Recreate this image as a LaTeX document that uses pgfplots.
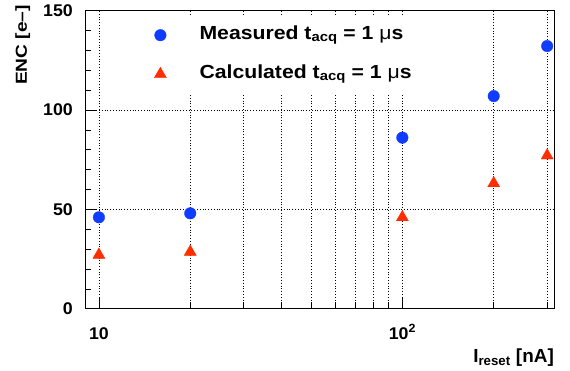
\documentclass[border=0pt]{standalone}
\usepackage{pgfplots}
\pgfplotsset{compat=1.18}
\usepackage{fontspec}
\setmainfont{Liberation Sans}
\newfontfamily\tickfont{Liberation Sans}[FakeStretch=1.05]
\newfontfamily\legfont{Liberation Sans}[FakeStretch=1.12]
\newfontfamily\ylabfont{Liberation Sans}[FakeStretch=1.2]
\definecolor{mblue}{RGB}{15,60,255}
\definecolor{mred}{RGB}{255,45,0}
\pgfplotsset{mylegimg/.style={legend image code/.code={\draw[##1] plot coordinates {(0bp,0bp)}; \path (-30bp,0bp) (39bp,0bp);}}}
\begin{document}
\begin{tikzpicture}
\useasboundingbox (-85bp,-62.3bp) rectangle (485bp,308.7bp);
\begin{axis}[
  scale only axis, width=469bp, height=298bp,
  xmode=log, xmin=9, xmax=316, ymin=0, ymax=150,
  xtick={10,100}, xticklabels={10,10\textsuperscript{2}},
  minor xtick={20,30,40,50,60,70,80,90,200,300},
  ytick={0,50,100,150}, yticklabels={0,50,100,150},
  minor ytick={10,20,30,40,60,70,80,90,110,120,130,140},
  xtick pos=bottom, ytick pos=left,
  tick align=inside,
  major tick length=12bp, minor tick length=6.5bp,
  tick style={black, line width=0.6pt},
  axis line style={line width=0.8pt},
  xmajorgrids, xminorgrids, ymajorgrids,
  grid style={black, dash pattern=on 0.8bp off 2bp, line width=0.5pt},
  minor grid style={black, dash pattern=on 0.8bp off 2bp, line width=0.5pt},
  xticklabel style={font=\tickfont\bfseries\fontsize{17}{17}\selectfont, anchor=base, inner sep=0pt, yshift=-30.3bp},
  yticklabel style={font=\tickfont\bfseries\fontsize{17}{17}\selectfont, anchor=east, inner sep=0pt, xshift=-12bp},
  xlabel={I\textsubscript{reset} [nA]},
  xlabel style={at={(axis description cs:1,-0.1822)}, anchor=base east, inner sep=0pt, font=\bfseries\fontsize{19}{19}\selectfont},
  ylabel={ENC [e–]},
  ylabel style={at={(axis description cs:-0.1237,1.019)}, anchor=base east, inner sep=0pt, font=\ylabfont\bfseries\fontsize{16}{16}\selectfont},
  legend cell align=left,
  legend style={at={(axis description cs:0.0746,0.9856)}, anchor=north west, fill=white, draw=none,
    inner xsep=10bp, inner ysep=10bp, row sep=19bp,
    font=\legfont\bfseries\fontsize{19}{19}\selectfont,
    nodes={inner sep=0pt, text height=14bp, text depth=6bp}},
]
\addplot[only marks, mark=*, mark size=5.8bp, color=mblue, mark options={fill=mblue, draw=mblue, line width=0.3pt}, mylegimg]
  coordinates {(10,46.0) (20,48.0) (100,86.1) (200,107.0) (300,132.2)};
\addlegendentry{Measured t\textsubscript{acq} = 1 {\mdseries μ}s}
\addplot[only marks, mark=triangle*, mark size=7bp, color=mred, mark options={fill=mred, draw=mred, line width=0.3pt}, mylegimg]
  coordinates {(10,27.1) (20,28.6) (100,46.0) (200,63.1) (300,77.1)};
\addlegendentry{Calculated t\textsubscript{acq} = 1 {\mdseries μ}s}
\end{axis}
\end{tikzpicture}
\end{document}
